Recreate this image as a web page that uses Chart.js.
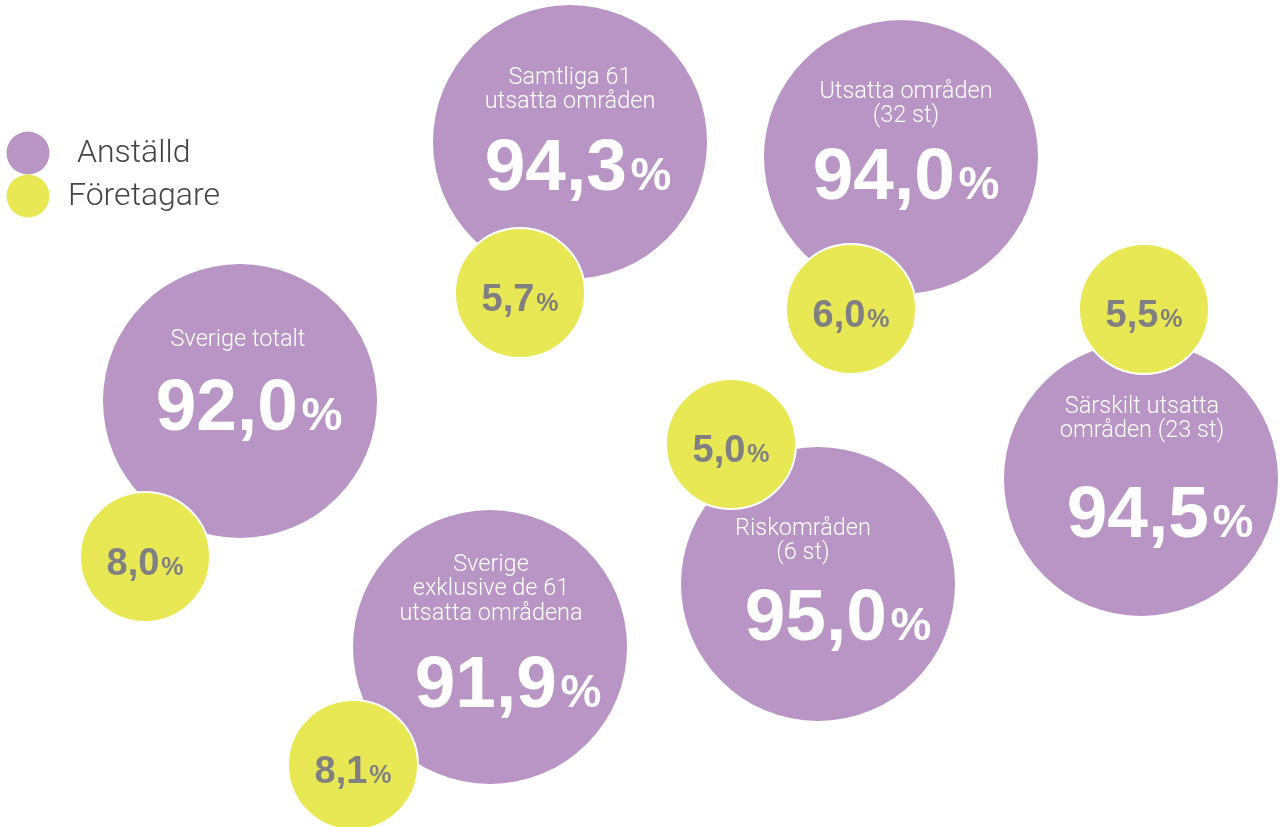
<!DOCTYPE html>
<html>

<head>
    <title>Anställd och företagare</title>
    <script src="https://cdn.jsdelivr.net/npm/chart.js"></script>
    <style>
        body { margin: 0; background: #ffffff; }
        canvas { display: block; }
    </style>
</head>

<body>
    <canvas id="shareChart" width="1283" height="827"></canvas>

    <script>
        // Areas shown, one bubble pair each
        const areas = [
            ["Samtliga 61", "utsatta områden"],
            ["Utsatta områden", "(32 st)"],
            ["Sverige totalt"],
            ["Sverige", "exklusive de 61", "utsatta områdena"],
            ["Riskområden", "(6 st)"],
            ["Särskilt utsatta", "områden (23 st)"]
        ];

        // Share of employed (Anställd) and self-employed (Företagare), in percent
        const anstalld = [94.3, 94.0, 92.0, 91.9, 95.0, 94.5];
        const foretagare = [5.7, 6.0, 8.0, 8.1, 5.0, 5.5];

        const seriesNames = ["Anställd", "Företagare"];

        // Where each pair sits on the page grid (x right, y down)
        const bigX = [570, 901, 240, 490, 818, 1141];
        const bigY = [142, 157, 401, 647, 584, 479];
        const smallX = [520, 851, 145, 353, 731, 1144];
        const smallY = [293, 309, 557, 765, 444, 309];

        // Text offsets inside the big bubbles
        const labelDx = [0, 5, -2, 1, -15, 1];
        const labelDy = [-64, -65, -61, -82, -55, -72];
        const numberDx = [8, 5, 9, 18, 20, 19];
        const numberDy = [22, 16, 3, 34, 30, 32];

        const purple = "#b895c4";
        const yellow = "#e8e855";

        function pct(v) {
            return v.toFixed(1).replace(".", ",");
        }

        // Draws "94,3" in big type followed by a smaller "%"
        function drawValue(ctx, text, cx, cy, bigSize, smallSize, color) {
            ctx.fillStyle = color;
            ctx.textBaseline = "alphabetic";
            ctx.textAlign = "left";
            const bigFont = "bold " + bigSize + "px 'Liberation Sans', Arial, sans-serif";
            const smallFont = "bold " + smallSize + "px 'Liberation Sans', Arial, sans-serif";
            ctx.font = bigFont;
            const w1 = ctx.measureText(text).width;
            ctx.font = smallFont;
            const w2 = ctx.measureText("%").width;
            const gap = bigSize * 0.05;
            const left = cx - (w1 + gap + w2) / 2;
            const base = cy + bigSize * 0.716 / 2;
            ctx.font = bigFont;
            ctx.fillText(text, left, base);
            ctx.font = smallFont;
            ctx.fillText("%", left + w1 + gap, base);
        }

        const labelPlugin = {
            id: "bubbleLabels",
            afterDatasetsDraw(chart) {
                const ctx = chart.ctx;
                const big = chart.getDatasetMeta(1).data;
                const small = chart.getDatasetMeta(0).data;
                ctx.save();

                areas.forEach((lines, i) => {
                    const p = big[i];
                    ctx.fillStyle = "#ffffff";
                    ctx.font = "300 23.5px Roboto, 'Liberation Sans', sans-serif";
                    ctx.textAlign = "center";
                    ctx.textBaseline = "middle";
                    lines.forEach((line, j) => {
                        ctx.fillText(line, p.x + labelDx[i], p.y + labelDy[i] + j * 24.5);
                    });
                    drawValue(ctx, pct(anstalld[i]), p.x + numberDx[i], p.y + numberDy[i], 73, 46, "#ffffff");

                    const q = small[i];
                    drawValue(ctx, pct(foretagare[i]), q.x, q.y + 4, 38, 25, "#808083");
                });

                // legend, top left
                const colors = [purple, yellow];
                const legendY = [153, 196];
                const textX = [77, 68];
                seriesNames.forEach((name, k) => {
                    ctx.beginPath();
                    ctx.arc(28, legendY[k], 21.5, 0, Math.PI * 2);
                    ctx.fillStyle = colors[k];
                    ctx.fill();
                    ctx.fillStyle = "#444444";
                    ctx.font = "300 32px Roboto, 'Liberation Sans', sans-serif";
                    ctx.textAlign = "left";
                    ctx.textBaseline = "middle";
                    ctx.fillText(name, textX[k], legendY[k] + 1);
                });

                ctx.restore();
            }
        };

        const ctx = document.getElementById("shareChart").getContext("2d");
        new Chart(ctx, {
            type: "bubble",
            data: {
                datasets: [
                    {
                        label: seriesNames[1],
                        data: foretagare.map((v, i) => ({ x: smallX[i], y: smallY[i], r: 65 })),
                        backgroundColor: yellow,
                        borderColor: "#ffffff",
                        borderWidth: 2,
                        order: 1,
                    },
                    {
                        label: seriesNames[0],
                        data: anstalld.map((v, i) => ({ x: bigX[i], y: bigY[i], r: 137 })),
                        backgroundColor: purple,
                        borderWidth: 0,
                        order: 2,
                    },
                ],
            },
            options: {
                responsive: false,
                animation: false,
                events: [],
                clip: false,
                layout: { padding: 0, autoPadding: false },
                plugins: {
                    legend: { display: false },
                    tooltip: { enabled: false },
                },
                scales: {
                    x: { type: "linear", min: 0, max: 1283, display: false },
                    y: { type: "linear", min: 0, max: 827, reverse: true, display: false },
                },
            },
            plugins: [labelPlugin],
        });
    </script>
</body>

</html>
